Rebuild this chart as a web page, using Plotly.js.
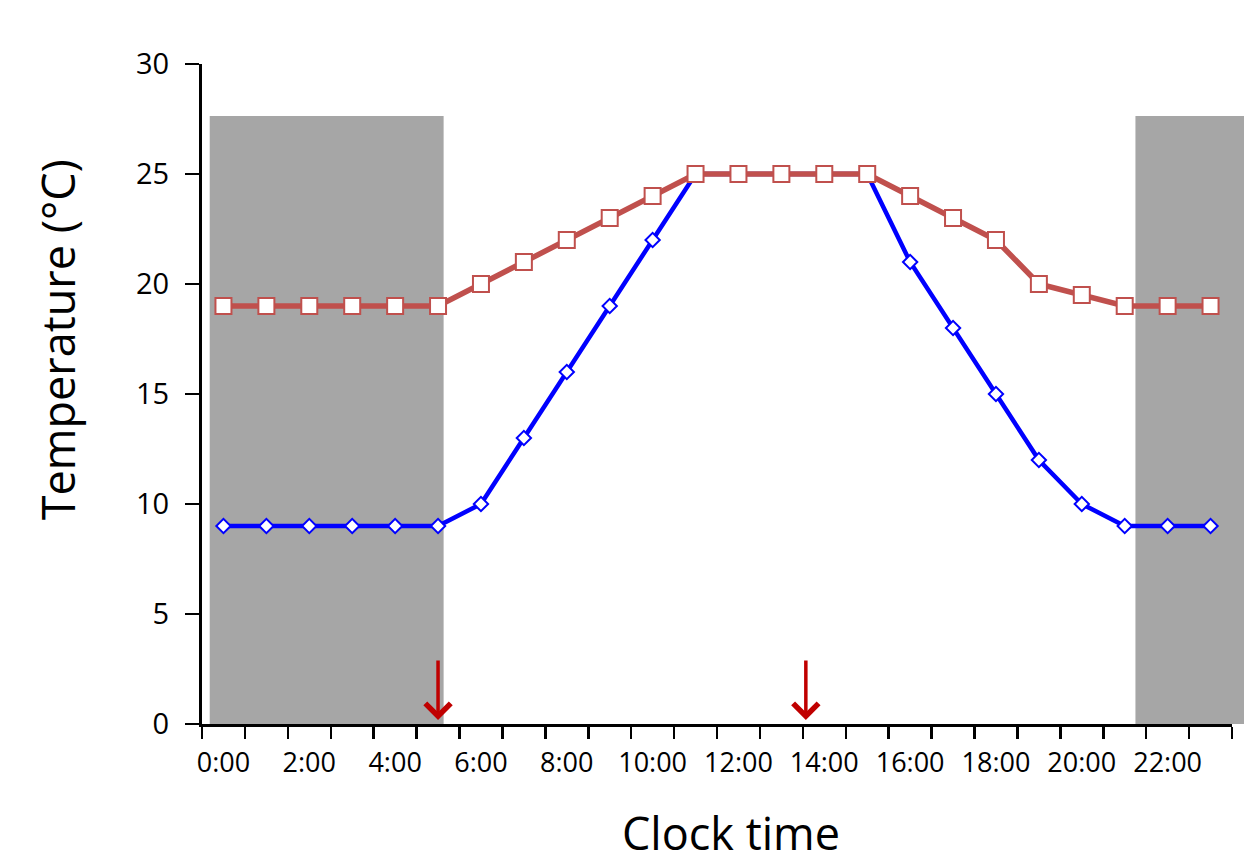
<!DOCTYPE html>
<html>
<head>
<meta charset="utf-8">
<script src="https://cdn.plot.ly/plotly-3.0.1.min.js"></script>
<style>html,body{margin:0;padding:0;background:#fff;}#chart{width:1244px;height:863px;}</style>
</head>
<body>
<div id="chart"></div>
<script>
// Data
var hours = [0,1,2,3,4,5,6,7,8,9,10,11,12,13,14,15,16,17,18,19,20,21,22,23];
var tickHours = [0,2,4,6,8,10,12,14,16,18,20,22];
var tickLabels = ['0:00','2:00','4:00','6:00','8:00','10:00','12:00','14:00','16:00','18:00','20:00','22:00'];
var lowTemp  = [9,9,9,9,9,9,10,13,16,19,22,25,25,25,25,25,21,18,15,12,10,9,9,9];
var highTemp = [19,19,19,19,19,19,20,21,22,23,24,25,25,25,25,25,24,23,22,20,19.5,19,19,19];
var darkPeriods = [[-0.32, 5.13], [21.25, 26]];
var darkTop = 27.64;
var arrowTimes = [5.0, 13.57];

var xRange = [-0.5, 23.5];
var yRange = [0, 30];

var traces = [
  {x: hours, y: lowTemp, type: 'scatter', mode: 'lines+markers',
   line: {color: '#0000ff', width: 4.5},
   marker: {symbol: 'diamond', size: 11, color: '#ffffff', line: {color: '#0000ff', width: 2}},
   cliponaxis: false, hoverinfo: 'skip'},
  {x: hours, y: highTemp, type: 'scatter', mode: 'lines+markers',
   line: {color: '#c0504d', width: 5.5},
   marker: {symbol: 'square', size: 16, color: '#ffffff', line: {color: '#c0504d', width: 2}},
   cliponaxis: false, hoverinfo: 'skip'}
];

function toPaperX(v){ return (v - xRange[0]) / (xRange[1] - xRange[0]); }
function toPaperY(v){ return (v - yRange[0]) / (yRange[1] - yRange[0]); }

var shapes = darkPeriods.map(function(p){
  return {type: 'rect', xref: 'paper', yref: 'paper', layer: 'below',
          x0: toPaperX(p[0]), x1: toPaperX(p[1]), y0: toPaperY(0), y1: toPaperY(darkTop),
          fillcolor: '#a6a6a6', line: {width: 0}};
});

var annotations = arrowTimes.map(function(t){
  return {x: t, y: 0.18, ax: t, ay: 2.95, xref: 'x', yref: 'y', axref: 'x', ayref: 'y',
          text: '', showarrow: true, arrowhead: 4, arrowsize: 1.4, arrowwidth: 3.5,
          arrowcolor: '#c00000'};
});
annotations.push({text: 'Clock time', xref: 'paper', yref: 'paper', x: 0.5136, y: -0.165,
  xanchor: 'center', yanchor: 'middle', showarrow: false,
  font: {family: 'Open Sans', size: 45, color: '#000'}});
annotations.push({text: 'Temperature (°C)', xref: 'paper', yref: 'paper', x: -0.1408, y: 0.583,
  xanchor: 'center', yanchor: 'middle', showarrow: false, textangle: -90,
  font: {family: 'Open Sans', size: 45, color: '#000'}});

var layout = {
  width: 1244, height: 863,
  margin: {l: 202, r: 12, t: 64, b: 139, pad: 0},
  paper_bgcolor: '#ffffff', plot_bgcolor: 'rgba(0,0,0,0)',
  showlegend: false,
  font: {family: 'Open Sans', color: '#000'},
  xaxis: {
    range: xRange, showgrid: false, zeroline: false,
    showline: true, linecolor: '#000', linewidth: 3,
    tickmode: 'array', tickvals: tickHours, ticktext: tickLabels,
    ticks: '', ticklabelstandoff: 13,
    tickfont: {family: 'Open Sans', size: 27, color: '#000'},
    minor: {ticks: 'outside', tick0: -0.5, dtick: 1, ticklen: 12, tickwidth: 2.5, tickcolor: '#000', showgrid: false}
  },
  yaxis: {
    range: yRange, showgrid: false, zeroline: false,
    showline: true, linecolor: '#000', linewidth: 3,
    tickmode: 'linear', tick0: 0, dtick: 5,
    ticks: 'outside', ticklen: 14, tickwidth: 2.5, tickcolor: '#000',
    ticklabelstandoff: 10,
    tickfont: {family: 'Open Sans', size: 29, color: '#000'}
  },
  shapes: shapes,
  annotations: annotations
};

Plotly.newPlot('chart', traces, layout, {displayModeBar: false, staticPlot: true});
</script>
</body>
</html>
